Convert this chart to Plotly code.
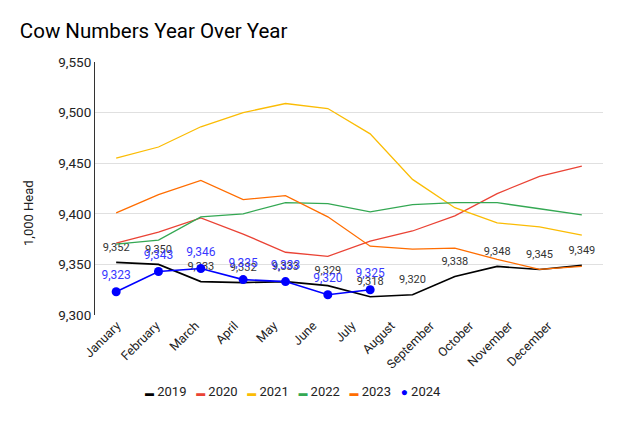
import plotly.graph_objects as go

months = ["January", "February", "March", "April", "May", "June",
          "July", "August", "September", "October", "November", "December"]

cows_2019 = [9352, 9350, 9333, 9332, 9333, 9329, 9318, 9320, 9338, 9348, 9345, 9349]
cows_2020 = [9371, 9382, 9396, 9380, 9362, 9358, 9373, 9383, 9398, 9420, 9437, 9447]
cows_2021 = [9455, 9466, 9486, 9500, 9509, 9504, 9479, 9434, 9406, 9391, 9387, 9379]
cows_2022 = [9370, 9374, 9397, 9400, 9411, 9410, 9402, 9409, 9411, 9411, 9405, 9399]
cows_2023 = [9401, 9419, 9433, 9414, 9418, 9397, 9368, 9365, 9366, 9355, 9345, 9348]
cows_2024 = [9323, 9343, 9346, 9335, 9333, 9320, 9325]

years = ["2019", "2020", "2021", "2022", "2023"]
series = [cows_2019, cows_2020, cows_2021, cows_2022, cows_2023]
colors = ["#000000", "#ea4335", "#fbbc04", "#34a853", "#ff6d01"]
blue = "#0000ff"

fig = go.Figure()

for name, vals, col in zip(years, series, colors):
    if name == "2019":
        # invisible markers only push the value labels up a little
        fig.add_trace(
            go.Scatter(
                x=months,
                y=vals,
                name=name,
                mode="lines+markers+text",
                line=dict(color=col, width=1.6),
                marker=dict(size=13, color="rgba(0,0,0,0)"),
                texttemplate="%{y:,}",
                textposition="top center",
                textfont=dict(size=11, color="#333333"),
            )
        )
    else:
        fig.add_trace(
            go.Scatter(x=months, y=vals, name=name, mode="lines",
                       line=dict(color=col, width=1.3))
        )

fig.add_trace(
    go.Scatter(
        x=months[: len(cows_2024)],
        y=cows_2024,
        name="2024",
        mode="lines+markers",
        line=dict(color=blue, width=1.6),
        marker=dict(size=9, color=blue),
    )
)
# labels for 2024, slightly higher than the dots
fig.add_trace(
    go.Scatter(
        x=months[: len(cows_2024)],
        y=cows_2024,
        mode="markers+text",
        marker=dict(size=14, color="rgba(0,0,0,0)"),
        texttemplate="%{y:,}",
        textposition="top center",
        textfont=dict(size=12, color="#3838ff"),
        hoverinfo="skip",
        showlegend=False,
    )
)
# empty trace so the month-label axis gets drawn
fig.add_trace(go.Scatter(x=[], y=[], xaxis="x2", showlegend=False, hoverinfo="skip"))

# legend as one line of text, tighter than plotly's own legend
legend_items = []
for name, col in zip(years, colors):
    legend_items.append(
        f"<span style='color:{col};font-size:9px'>▬</span>\u00a0{name}"
    )
legend_items.append(f"<span style='color:{blue};font-size:12px'>●</span>\u00a0{2024}")
legend_text = "\u00a0\u00a0\u00a0".join(legend_items)

fig.update_layout(
    title={
        "text": "Cow Numbers Year Over Year",
        "x": 0.019,
        "xanchor": "left",
        "y": 0.945,
        "yanchor": "middle",
        "font": dict(size=20.5, color="#000000"),
    },
    font=dict(family="Roboto, Arial, sans-serif", color="#222222"),
    width=624,
    height=421,
    margin=dict(l=87, r=29, t=54, b=114),
    paper_bgcolor="white",
    plot_bgcolor="white",
    showlegend=False,
    annotations=[
        dict(
            text=legend_text,
            xref="paper", yref="paper",
            x=0.39, y=-0.304,
            xanchor="center", yanchor="middle",
            showarrow=False,
            font=dict(size=13, color="#222222"),
        ),
        dict(
            text="1,000 Head",
            xref="paper", yref="paper",
            x=-0.132, y=0.403,
            xanchor="center", yanchor="middle",
            textangle=-90,
            showarrow=False,
            font=dict(size=13, color="#222222"),
        ),
    ],
    xaxis=dict(
        showticklabels=False,
        showgrid=False,
        showline=False,
        ticks="",
        range=[-0.5, 11.5],
    ),
    # month labels sit a little tighter than the points, as in the original
    xaxis2=dict(
        overlaying="x",
        anchor="y",
        side="bottom",
        range=[-0.56, 12.40],
        tickmode="array",
        tickvals=list(range(len(months))),
        ticktext=months,
        tickangle=-45,
        tickfont=dict(size=12.5, color="#222222"),
        showgrid=False,
        showline=False,
        zeroline=False,
        ticks="",
    ),
    yaxis=dict(
        range=[9300, 9550],
        dtick=50,
        tickformat=",",
        tickfont=dict(size=13.5, color="#222222"),
        gridcolor="#e0e0e0",
        showline=True,
        linecolor="#333333",
        linewidth=1,
        zeroline=False,
    ),
)

fig.write_html("out.html")
